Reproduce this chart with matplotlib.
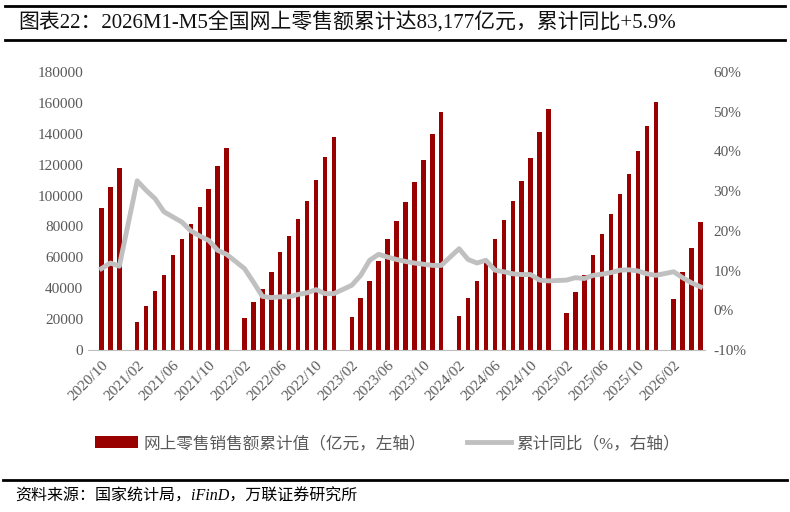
import matplotlib
matplotlib.use("Agg")
import matplotlib.pyplot as plt
import numpy as np
from matplotlib.ticker import FuncFormatter

plt.rcParams['font.family'] = ['Liberation Serif', 'Noto Sans CJK SC']

months = ["2020/10", "2020/11", "2020/12"]
for y in range(2021, 2027):
    for m in range(1, 13):
        if y == 2026 and m > 5:
            break
        months.append(f"{y}/{m:02d}")

# cumulative online retail sales (100 million yuan), Feb..Dec each year (Jan merged)
sales_2020 = [91700, 105700, 117800]
sales_2021 = [18300, 28700, 38400, 48800, 61700, 71600, 81600, 92300, 104000, 119000, 131000]
sales_2022 = [20500, 30900, 39300, 50300, 63500, 73800, 84600, 96300, 109900, 124800, 137900]
sales_2023 = [21400, 33700, 44900, 57600, 72000, 83500, 95800, 108600, 123200, 139900, 154300]
sales_2024 = [22200, 33900, 44900, 56500, 71700, 84200, 96700, 109200, 124500, 141200, 155800]
sales_2025 = [24000, 37400, 48600, 61500, 75300, 87900, 100800, 113700, 128900, 145200, 160400]
sales_2026 = [33000, 50500, 65800, 83177]

yoy_2020 = [10.5, 11.9, 11.1]
yoy_2021 = [32.6, 30.2, 28.1, 24.8, 23.5, 22.2, 20.0, 18.7, 17.6, 15.1, 14.1]
yoy_2022 = [10.5, 7.1, 3.5, 3.2, 3.4, 3.4, 4.0, 4.4, 5.2, 4.2, 4.2]
yoy_2023 = [6.3, 8.8, 12.6, 14.1, 13.4, 12.8, 12.3, 11.9, 11.6, 11.3, 11.3]
yoy_2024 = [15.5, 12.8, 11.9, 12.6, 10.1, 9.7, 9.2, 9.0, 9.0, 7.6, 7.4]
yoy_2025 = [7.6, 8.2, 8.0, 8.8, 9.1, 9.5, 10.1, 10.2, 9.9, 9.2, 8.8]
yoy_2026 = [9.7, 8.2, 6.9, 5.9]

sales = sales_2020[:]
yoy = yoy_2020[:]
for s, r in [(sales_2021, yoy_2021), (sales_2022, yoy_2022), (sales_2023, yoy_2023),
             (sales_2024, yoy_2024), (sales_2025, yoy_2025), (sales_2026, yoy_2026)]:
    sales += [np.nan] + s
    yoy += [np.nan] + r
sales = np.array(sales, dtype=float)
yoy = np.array(yoy, dtype=float)
x = np.arange(len(months))

fig = plt.figure(figsize=(7.9, 5.12), dpi=100)
ax = fig.add_axes([88/790, 1-350/512, (705-88)/790, (350-72)/512])
ax2 = ax.twinx()

red = '#990000'
grey = '#C0C0C0'
b = ax.bar(x, np.nan_to_num(sales), width=0.5, color=red, label='网上零售销售额累计值（亿元，左轴）')
m = ~np.isnan(yoy)
l, = ax2.plot(x[m], yoy[m], color=grey, lw=3.5, label='累计同比（%，右轴）')

ax.set_xlim(-1.5, len(months) - 0.5)
ax.set_ylim(0, 180000)
ax.set_yticks(np.arange(0, 180001, 20000))
ax2.set_ylim(-10, 60)
ax2.set_yticks(np.arange(-10, 61, 10))
ax2.yaxis.set_major_formatter(FuncFormatter(lambda v, p: f"{int(v)}%"))

ticks = list(range(0, len(months), 4))
ax.set_xticks(ticks)
ax.set_xticklabels([months[i] for i in ticks], rotation=45, ha='right', rotation_mode='anchor')

for a in (ax, ax2):
    for s in a.spines.values():
        s.set_visible(False)
    a.tick_params(length=0, labelsize=11, colors='#595959')
ax.spines['bottom'].set_visible(True)
ax.spines['bottom'].set_color('#BFBFBF')
ax.tick_params(axis='x', pad=6)
ax2.tick_params(axis='y', pad=6)

fig.text(18/790, 1-23/512, '图表22：2026M1-M5全国网上零售额累计达83,177亿元，累计同比+5.9%',
         fontsize=15, va='center', ha='left', color='#111111')
fig.add_artist(plt.Line2D([5/790, 785/790], [1-6/512, 1-6/512], color='black', lw=2))
fig.add_artist(plt.Line2D([5/790, 785/790], [1-40/512, 1-40/512], color='black', lw=2))
fig.add_artist(plt.Line2D([3/790, 787/790], [1-480/512, 1-480/512], color='black', lw=2))
fig.text(15/790, 1-497/512, '资料来源：国家统计局，iFinD，万联证券研究所', fontsize=11.5,
         style='italic', va='center', ha='left')

fig.legend(handles=[b, l], loc='center', bbox_to_anchor=(0.49, 1-444/512), ncol=2,
           frameon=False, fontsize=12, handlelength=2.6, handletextpad=0.3, columnspacing=2.5,
           labelcolor='#595959')

fig.savefig('out.png', dpi=100)
